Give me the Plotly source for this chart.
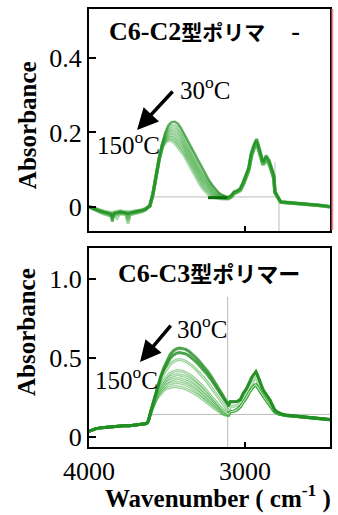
import plotly.graph_objects as go

# ---------------- DATA ----------------
temps = ["30", "50", "70", "90", "110", "130", "150"]

# Top panel (C6-C2)
top_wn_left = [4000, 3980, 3960, 3940, 3920, 3900, 3880, 3860, 3850, 3840, 3820,
               3800, 3780, 3760, 3750, 3740, 3720, 3700, 3680, 3660, 3640, 3625]
top_left_A = [0.001, -0.003, -0.007, -0.010, -0.012, -0.014, -0.016, -0.018, -0.040, -0.017, -0.015,
              -0.013, -0.014, -0.016, -0.018, -0.016, -0.014, -0.013, -0.012, -0.010, -0.007, -0.002]
top_left_B = [0.000, -0.004, -0.008, -0.012, -0.015, -0.017, -0.019, -0.021, -0.024, -0.020, -0.030,
              -0.016, -0.017, -0.019, -0.045, -0.020, -0.018, -0.016, -0.015, -0.012, -0.008, -0.002]
top_left_C = [0.001, -0.002, -0.006, -0.009, -0.011, -0.013, -0.015, -0.017, -0.019, -0.016, -0.014,
              -0.013, -0.014, -0.015, -0.016, -0.015, -0.013, -0.012, -0.011, -0.009, -0.006, -0.001]
top_left_D = [0.000, -0.003, -0.007, -0.011, -0.014, -0.016, -0.018, -0.025, -0.035, -0.019, -0.017,
              -0.015, -0.016, -0.018, -0.030, -0.018, -0.016, -0.015, -0.013, -0.011, -0.007, -0.002]
top_left_E = [0.001, -0.002, -0.005, -0.008, -0.010, -0.012, -0.013, -0.015, -0.016, -0.014, -0.012,
              -0.011, -0.012, -0.013, -0.014, -0.013, -0.012, -0.011, -0.010, -0.008, -0.005, -0.001]
top_left_F = [0.000, -0.004, -0.009, -0.013, -0.016, -0.019, -0.021, -0.023, -0.024, -0.022, -0.020,
              -0.018, -0.019, -0.021, -0.038, -0.021, -0.019, -0.017, -0.015, -0.012, -0.008, -0.002]
top_left_G = [0.001, -0.003, -0.006, -0.010, -0.013, -0.015, -0.017, -0.019, -0.020, -0.018, -0.016,
              -0.014, -0.015, -0.017, -0.019, -0.017, -0.015, -0.014, -0.012, -0.010, -0.006, -0.001]

top_wn_band = [3610, 3590, 3570, 3550, 3530, 3510, 3490, 3470, 3450, 3430, 3410, 3390, 3370,
               3350, 3330, 3310, 3290, 3270, 3250, 3230, 3210, 3190, 3170, 3150, 3130]
top_band_A = [0.003, 0.035, 0.085, 0.130, 0.170, 0.200, 0.220, 0.228, 0.229, 0.224, 0.212, 0.196, 0.180,
              0.164, 0.147, 0.131, 0.115, 0.099, 0.084, 0.071, 0.059, 0.048, 0.039, 0.033, 0.029]
top_band_B = [0.003, 0.035, 0.085, 0.130, 0.168, 0.196, 0.212, 0.219, 0.219, 0.214, 0.202, 0.187, 0.171,
              0.155, 0.138, 0.122, 0.106, 0.091, 0.077, 0.064, 0.053, 0.043, 0.035, 0.030, 0.027]
top_band_C = [0.003, 0.035, 0.085, 0.130, 0.166, 0.191, 0.205, 0.210, 0.209, 0.204, 0.192, 0.177, 0.161,
              0.145, 0.129, 0.113, 0.097, 0.083, 0.070, 0.058, 0.047, 0.038, 0.032, 0.028, 0.026]
top_band_D = [0.003, 0.035, 0.085, 0.129, 0.165, 0.186, 0.198, 0.202, 0.200, 0.193, 0.181, 0.167, 0.152,
              0.136, 0.120, 0.104, 0.089, 0.075, 0.063, 0.052, 0.042, 0.034, 0.029, 0.026, 0.025]
top_band_E = [0.003, 0.035, 0.085, 0.129, 0.163, 0.182, 0.191, 0.194, 0.190, 0.182, 0.171, 0.158, 0.143,
              0.127, 0.111, 0.095, 0.080, 0.067, 0.056, 0.046, 0.037, 0.031, 0.027, 0.024, 0.024]
top_band_F = [0.003, 0.035, 0.085, 0.128, 0.162, 0.178, 0.185, 0.186, 0.181, 0.172, 0.160, 0.148, 0.133,
              0.117, 0.101, 0.086, 0.071, 0.058, 0.048, 0.039, 0.032, 0.027, 0.025, 0.023, 0.023]
top_band_G = [0.003, 0.035, 0.085, 0.128, 0.160, 0.174, 0.179, 0.178, 0.172, 0.162, 0.150, 0.139, 0.124,
              0.108, 0.092, 0.077, 0.062, 0.050, 0.040, 0.032, 0.027, 0.024, 0.023, 0.022, 0.022]

top_wn_right = [3110, 3090, 3070, 3050, 3030, 3010, 2990, 2975, 2960, 2945, 2935, 2925, 2915, 2905,
                2895, 2885, 2875, 2865, 2855, 2845, 2835, 2825, 2815, 2808, 2800, 2790, 2780, 2770,
                2740, 2700, 2660, 2620, 2580, 2540, 2500, 2455]
top_right_hi = [0.026, 0.030, 0.041, 0.044, 0.050, 0.068, 0.090, 0.108, 0.145, 0.165, 0.176, 0.182, 0.168, 0.150,
                0.135, 0.122, 0.128, 0.138, 0.132, 0.125, 0.112, 0.095, 0.085, 0.042, 0.035, 0.030, 0.020, 0.014,
                0.013, 0.012, 0.011, 0.010, 0.008, 0.006, 0.004, 0.001]
top_right_mid = [0.024, 0.028, 0.038, 0.041, 0.047, 0.064, 0.085, 0.103, 0.139, 0.159, 0.170, 0.176, 0.162, 0.145,
                 0.130, 0.117, 0.123, 0.132, 0.126, 0.119, 0.107, 0.090, 0.080, 0.040, 0.033, 0.029, 0.019, 0.013,
                 0.012, 0.011, 0.010, 0.009, 0.007, 0.005, 0.003, 0.001]
top_right_lo = [0.022, 0.026, 0.036, 0.039, 0.044, 0.060, 0.081, 0.098, 0.133, 0.153, 0.165, 0.170, 0.157, 0.140,
                0.125, 0.113, 0.118, 0.127, 0.121, 0.114, 0.102, 0.086, 0.075, 0.038, 0.032, 0.028, 0.019, 0.013,
                0.012, 0.011, 0.010, 0.009, 0.007, 0.005, 0.003, 0.000]

top_dark_wn = [3237, 3115]
top_dark_abs = [0.025, 0.025]

# Bottom panel (C6-C3)
bot_temps = ["30", "45", "60", "75", "90", "105", "120", "150"]
bot_wn_left = [4000, 3960, 3920, 3880, 3840, 3800, 3760, 3740, 3720, 3700, 3680, 3660, 3640, 3630]
bot_left = [0.035, 0.050, 0.058, 0.062, 0.064, 0.066, 0.072, 0.070, 0.072, 0.075, 0.075, 0.078, 0.082, 0.085]

bot_wn_band = [3620, 3600, 3580, 3560, 3540, 3520, 3500, 3480, 3460, 3440, 3420, 3400, 3380, 3360,
               3340, 3320, 3300, 3280, 3260, 3240, 3220, 3200, 3180, 3160, 3140, 3120, 3105]
bot_band_A = [0.100, 0.175, 0.245, 0.320, 0.385, 0.440, 0.487, 0.522, 0.545, 0.558, 0.563, 0.561, 0.555, 0.543,
              0.527, 0.508, 0.487, 0.465, 0.442, 0.416, 0.388, 0.358, 0.326, 0.294, 0.260, 0.226, 0.205]
bot_band_B = [0.100, 0.175, 0.245, 0.318, 0.378, 0.425, 0.465, 0.497, 0.518, 0.530, 0.535, 0.533, 0.527, 0.515,
              0.500, 0.482, 0.462, 0.441, 0.419, 0.394, 0.367, 0.338, 0.308, 0.277, 0.245, 0.214, 0.195]
bot_band_C = [0.100, 0.172, 0.240, 0.305, 0.360, 0.402, 0.435, 0.460, 0.477, 0.487, 0.490, 0.487, 0.479, 0.467,
              0.452, 0.434, 0.414, 0.393, 0.370, 0.346, 0.320, 0.293, 0.265, 0.236, 0.208, 0.180, 0.165]
bot_band_D = [0.100, 0.170, 0.232, 0.285, 0.327, 0.360, 0.385, 0.403, 0.414, 0.419, 0.420, 0.416, 0.408, 0.397,
              0.383, 0.367, 0.349, 0.330, 0.309, 0.287, 0.264, 0.240, 0.215, 0.190, 0.167, 0.150, 0.145]
bot_band_E = [0.100, 0.168, 0.228, 0.277, 0.315, 0.344, 0.366, 0.381, 0.390, 0.394, 0.394, 0.390, 0.382, 0.371,
              0.358, 0.343, 0.326, 0.308, 0.289, 0.269, 0.248, 0.226, 0.203, 0.180, 0.160, 0.146, 0.142]
bot_band_F = [0.100, 0.166, 0.223, 0.268, 0.302, 0.328, 0.347, 0.359, 0.366, 0.369, 0.368, 0.364, 0.356, 0.346,
              0.334, 0.320, 0.304, 0.287, 0.269, 0.250, 0.230, 0.210, 0.190, 0.170, 0.153, 0.143, 0.140]
bot_band_G = [0.100, 0.164, 0.218, 0.259, 0.290, 0.312, 0.328, 0.338, 0.343, 0.345, 0.343, 0.339, 0.332, 0.322,
              0.310, 0.297, 0.283, 0.267, 0.250, 0.233, 0.215, 0.197, 0.179, 0.162, 0.148, 0.140, 0.138]
bot_band_H = [0.100, 0.162, 0.213, 0.250, 0.277, 0.296, 0.308, 0.315, 0.318, 0.318, 0.316, 0.312, 0.305, 0.296,
              0.285, 0.273, 0.260, 0.246, 0.231, 0.216, 0.200, 0.184, 0.168, 0.154, 0.142, 0.136, 0.135]

bot_wn_right = [3095, 3070, 3050, 3030, 3010, 2990, 2970, 2955, 2940, 2930, 2920, 2910, 2900, 2890, 2880, 2870,
                2860, 2850, 2840, 2825, 2810, 2795, 2780, 2760, 2740, 2700, 2660, 2620, 2580, 2540, 2500, 2455]
bot_right_hi = [0.222, 0.222, 0.224, 0.236, 0.277, 0.306, 0.355, 0.380, 0.400, 0.413, 0.392, 0.362, 0.330, 0.312,
                0.292, 0.278, 0.263, 0.248, 0.233, 0.202, 0.172, 0.158, 0.150, 0.143, 0.138, 0.134, 0.130, 0.127,
                0.123, 0.119, 0.115, 0.110]
bot_right_mid = [0.190, 0.192, 0.198, 0.212, 0.248, 0.275, 0.320, 0.345, 0.365, 0.375, 0.360, 0.335, 0.308, 0.292,
                 0.274, 0.260, 0.246, 0.232, 0.218, 0.190, 0.165, 0.152, 0.146, 0.140, 0.136, 0.133, 0.129, 0.126,
                 0.122, 0.118, 0.114, 0.109]
bot_right_lo = [0.159, 0.163, 0.172, 0.190, 0.222, 0.250, 0.288, 0.310, 0.325, 0.330, 0.318, 0.300, 0.283, 0.270,
                0.255, 0.240, 0.226, 0.212, 0.200, 0.178, 0.158, 0.148, 0.143, 0.139, 0.135, 0.132, 0.128, 0.125,
                0.121, 0.117, 0.113, 0.108]

top_yticks = [0, 0.2, 0.4]
top_yticktext = ["0", "0.2", "0.4"]
bot_yticks = [0, 0.5, 1.0]
bot_yticktext = ["0", "0.5", "1.0"]
xticks = [4000, 3000]
xticktext = ["4000", "3000"]

# ---------------- FIGURE ----------------
SERIF = "Liberation Serif"
fig = go.Figure()

top_sets = [
    (top_left_A, top_band_A, top_right_hi),
    (top_left_B, top_band_B, top_right_hi),
    (top_left_C, top_band_C, top_right_mid),
    (top_left_D, top_band_D, top_right_mid),
    (top_left_E, top_band_E, top_right_mid),
    (top_left_F, top_band_F, top_right_lo),
    (top_left_G, top_band_G, top_right_lo),
]
top_wn = top_wn_left + top_wn_band + top_wn_right
for i, (l, b, r) in enumerate(reversed(top_sets)):
    dark = i == len(top_sets) - 1
    fig.add_trace(go.Scatter(
        x=top_wn, y=l + b + r, mode="lines", xaxis="x", yaxis="y",
        line=dict(color="rgba(30,140,30,0.7)" if dark else "rgba(55,165,55,0.42)",
                  width=2.4 if dark else 3.4),
        showlegend=False, hoverinfo="skip"))
fig.add_trace(go.Scatter(x=top_dark_wn, y=top_dark_abs, mode="lines", xaxis="x", yaxis="y",
                         line=dict(color="rgb(10,110,10)", width=3), showlegend=False, hoverinfo="skip"))

bot_sets = [
    (bot_band_A, bot_right_hi), (bot_band_B, bot_right_hi), (bot_band_C, bot_right_mid),
    (bot_band_D, bot_right_lo), (bot_band_E, bot_right_lo), (bot_band_F, bot_right_lo),
    (bot_band_G, bot_right_lo), (bot_band_H, bot_right_lo),
]
bot_wn = bot_wn_left + bot_wn_band + bot_wn_right
for i, (b, r) in enumerate(reversed(bot_sets)):
    dark = i >= len(bot_sets) - 2
    y = bot_left + b + r
    fig.add_trace(go.Scatter(
        x=bot_wn, y=y, mode="lines", xaxis="x2", yaxis="y2",
        line=dict(color="rgba(30,140,30,0.8)" if dark else "rgba(60,170,60,0.55)", width=3),
        showlegend=False, hoverinfo="skip"))
    if not dark:
        fig.add_trace(go.Scatter(
            x=bot_wn, y=y, mode="lines", xaxis="x2", yaxis="y2",
            line=dict(color="rgba(255,255,255,0.7)", width=0.9),
            showlegend=False, hoverinfo="skip"))

axis_common = dict(showline=True, linecolor="black", linewidth=2, mirror=True,
                   ticks="inside", ticklen=7, tickwidth=1.5, tickcolor="black",
                   showgrid=False, zeroline=False, automargin=False,
                   tickfont=dict(family=SERIF, size=26, color="black"))

fig.update_layout(
    width=338, height=515, template="none",
    margin=dict(l=89, r=8, t=9, b=68),
    paper_bgcolor="white", plot_bgcolor="white",
    xaxis=dict(axis_common, domain=[0, 1], range=[4000, 2455], anchor="y",
               tickvals=[3000], showticklabels=False, ticklen=5),
    yaxis=dict(axis_common, domain=[0.4932, 1], range=[-0.0644, 0.5315], anchor="x",
               tickvals=top_yticks, ticktext=top_yticktext),
    xaxis2=dict(axis_common, domain=[0, 1], range=[4000, 2455], anchor="y2",
                tickvals=xticks, ticktext=xticktext, ticklen=5),
    yaxis2=dict(axis_common, domain=[0, 0.4543], range=[-0.065, 1.199], anchor="x2",
                tickvals=bot_yticks, ticktext=bot_yticktext),
)

GRAY = "rgba(170,170,170,0.8)"
shapes = [
    dict(type="line", xref="x", yref="y", x0=3596, x1=2782, y0=0.027, y1=0.027, line=dict(color=GRAY, width=1), layer="below"),
    dict(type="line", xref="x", yref="y", x0=2782, x1=2782, y0=0.027, y1=-0.0644, line=dict(color=GRAY, width=1), layer="below"),
    dict(type="line", xref="x", yref="y", x0=2808, x1=2808, y0=0.12, y1=0.035, line=dict(color=GRAY, width=1), layer="below"),
    dict(type="line", xref="x2", yref="y2", x0=3111, x1=3111, y0=0.889, y1=-0.065, line=dict(color=GRAY, width=1), layer="below"),
    dict(type="line", xref="x2", yref="y2", x0=3622, x1=2455, y0=0.142, y1=0.142, line=dict(color=GRAY, width=1), layer="below"),
    dict(type="line", xref="paper", yref="paper", x0=1.0095, x1=1.0095, y0=0.4955, y1=1.0,
         line=dict(color="rgba(235,110,110,0.8)", width=2)),
]
fig.update_layout(shapes=shapes)

ann = []
def txt(s, x, y, xref, yref, size=25, bold=False, **kw):
    ann.append(dict(text=f"<b>{s}</b>" if bold else s, x=x, y=y, xref=xref, yref=yref,
                    showarrow=False, font=dict(family=SERIF, size=size, color="black"), **kw))

JPSPAN = "<span style='font-family:Noto Sans CJK JP;font-size:21px'>"
txt("C6-C2" + JPSPAN + "型ポリマ</span>\u00a0\u00a0\u00a0\u00a0-", 0.479, 0.9498, "paper", "paper", size=26, bold=True,
    xanchor="center", yanchor="middle")
txt("C6-C3" + JPSPAN.replace("21px", "22px") + "型ポリマー</span>", 0.498, 0.3995, "paper", "paper", size=26, bold=True,
    xanchor="center", yanchor="middle")
txt("Absorbance", -0.257, 0.735, "paper", "paper", size=25, bold=True, textangle=-90,
    xanchor="center", yanchor="middle")
txt("Absorbance", -0.257, 0.2626, "paper", "paper", size=25, bold=True, textangle=-90,
    xanchor="center", yanchor="middle")
txt("Wavenumber ( cm<sup>-1</sup> )", 0.537, -0.112, "paper", "paper", size=25, bold=True,
    xanchor="center", yanchor="middle")
txt("30<sup>o</sup>C", 3429, 0.319, "x", "y", xanchor="left", yanchor="middle")
txt("150<sup>o</sup>C", 3962, 0.172, "x", "y", xanchor="left", yanchor="middle")
txt("30<sup>o</sup>C", 3449, 0.699, "x2", "y2", xanchor="left", yanchor="middle")
txt("150<sup>o</sup>C", 3974, 0.375, "x2", "y2", xanchor="left", yanchor="middle")
ann.append(dict(x=3692, y=0.207, ax=3455, ay=0.314, xref="x", yref="y", axref="x", ayref="y",
                showarrow=True, arrowhead=2, arrowsize=1.2, arrowwidth=3.5, arrowcolor="black", text=""))
ann.append(dict(x=3673, y=0.475, ax=3468, ay=0.716, xref="x2", yref="y2", axref="x2", ayref="y2",
                showarrow=True, arrowhead=2, arrowsize=1.2, arrowwidth=3.5, arrowcolor="black", text=""))
fig.update_layout(annotations=ann)

fig.write_html("out.html", config={"displayModeBar": False},
               post_script="document.body.style.margin='0';document.body.style.overflow='hidden';")
